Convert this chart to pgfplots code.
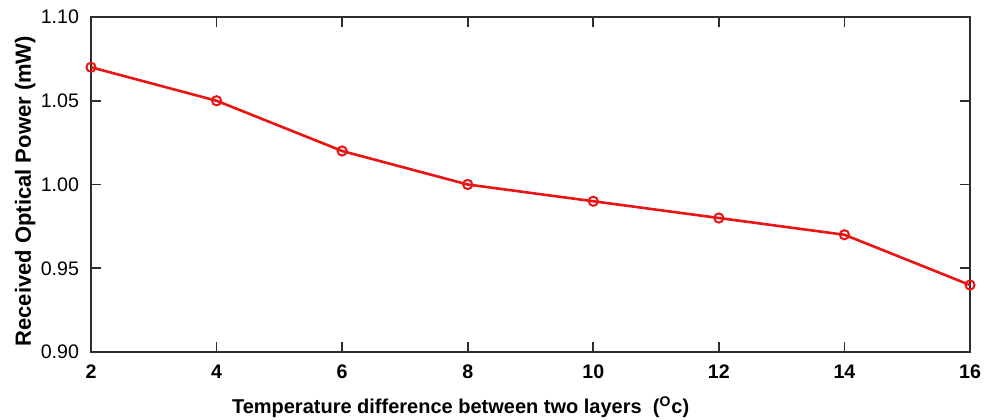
\documentclass[border=0pt]{standalone}
\usepackage{fontspec}
\setmainfont{Liberation Sans}
\usepackage{pgfplots}
\pgfplotsset{compat=1.18}
\definecolor{lred}{RGB}{235,20,20}
\definecolor{axgray}{RGB}{45,45,45}
\begin{document}
\begin{tikzpicture}
\begin{axis}[
  name=ax,
  at={(0,0)}, anchor=south west,
  scale only axis,
  width=439.5pt, height=167.5pt,
  xmin=2, xmax=16, ymin=0.90, ymax=1.10,
  xtick={2,4,...,16},
  ytick={0.90,0.95,1.00,1.05,1.10},
  /pgf/number format/assume math mode=true,
  yticklabel style={/pgf/number format/fixed,/pgf/number format/fixed zerofill,/pgf/number format/precision=2, font=\fontsize{9.8}{11}\selectfont, xshift=-2.5pt},
  xticklabel style={font=\fontsize{9.8}{11}\selectfont\bfseries, yshift=-3pt},
  tick align=inside,
  major tick length=5pt,
  tick style={axgray, line width=0.9pt},
  axis line style={axgray, line width=1.3pt},
  xlabel={Temperature difference between two layers\ \ (\textsuperscript{O}c)},
  ylabel={Received Optical Power (mW)},
  x label style={font=\fontsize{10}{12}\selectfont\bfseries, at={(axis description cs:0.4205,-0.164)}, anchor=center},
  y label style={font=\fontsize{11}{12}\selectfont\bfseries, at={(axis description cs:-0.075,0.48)}, anchor=center},
  clip=false,
]
\addplot[lred, line width=1.3pt, mark=o, mark size=2.3pt, mark options={line width=1pt}]
coordinates {(2,1.07)(4,1.05)(6,1.02)(8,1.00)(10,0.99)(12,0.98)(14,0.97)(16,0.94)};
\end{axis}
\pgfresetboundingbox
\path[use as bounding box] (-45.5pt,-33.5pt) rectangle (450pt,176pt);
\end{tikzpicture}
\end{document}
